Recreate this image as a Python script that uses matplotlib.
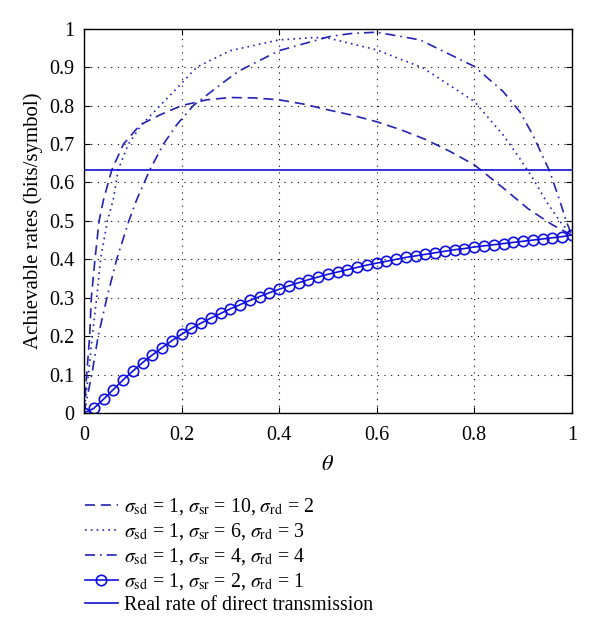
import numpy as np
import matplotlib.pyplot as plt

plt.rcParams['font.family'] = ['Liberation Serif', 'DejaVu Serif']
plt.rcParams['mathtext.fontset'] = 'stix'

# sigma_sd=1, sigma_sr=10, sigma_rd=2 (dashed)
theta_a = [0, 0.0055, 0.0116, 0.015, 0.0225, 0.031, 0.040, 0.057, 0.081, 0.115,
           0.156, 0.2, 0.251, 0.3, 0.35, 0.4, 0.45, 0.5, 0.55, 0.6, 0.65, 0.7,
           0.75, 0.8, 0.86, 0.91, 0.96, 1.0]
rate_a = [0, 0.1, 0.2, 0.3, 0.4, 0.5, 0.555, 0.633, 0.7, 0.75,
          0.776, 0.8, 0.815, 0.821, 0.82, 0.815, 0.804, 0.789, 0.775, 0.758, 0.737, 0.712,
          0.681, 0.646, 0.585, 0.532, 0.49, 0.463]

# sigma_sd=1, sigma_sr=6, sigma_rd=3 (dotted)
theta_b = [0, 0.009, 0.017, 0.026, 0.034, 0.048, 0.060, 0.070, 0.091, 0.118,
           0.156, 0.197, 0.231, 0.3, 0.4, 0.47, 0.5, 0.6, 0.695, 0.8, 0.859,
           0.893, 0.92, 0.948, 0.976, 1.0]
rate_b = [0, 0.1, 0.2, 0.3, 0.4, 0.5, 0.555, 0.633, 0.7, 0.75,
          0.8, 0.854, 0.9, 0.943, 0.971, 0.977, 0.976, 0.945, 0.898, 0.811, 0.724,
          0.663, 0.611, 0.55, 0.498, 0.463]

# sigma_sd=1, sigma_sr=4, sigma_rd=4 (dash-dot)
theta_c = [0, 0.016, 0.029, 0.047, 0.067, 0.092, 0.108, 0.135, 0.163, 0.19,
           0.224, 0.279, 0.316, 0.4, 0.504, 0.55, 0.6, 0.689, 0.8, 0.859, 0.893,
           0.92, 0.955, 0.976, 0.989, 1.0]
rate_c = [0, 0.1, 0.2, 0.3, 0.4, 0.5, 0.555, 0.633, 0.7, 0.75,
          0.8, 0.854, 0.889, 0.943, 0.98, 0.988, 0.991, 0.971, 0.902, 0.837, 0.785,
          0.724, 0.628, 0.55, 0.498, 0.463]

# sigma_sd=1, sigma_sr=2, sigma_rd=1 (circles), theta = 0, 0.02, ..., 1
theta_d = np.linspace(0, 1, 51)
rate_d = [0, 0.012, 0.036, 0.061, 0.086, 0.109, 0.131, 0.151, 0.170, 0.188,
          0.205, 0.220, 0.234, 0.247, 0.259, 0.271, 0.282, 0.293, 0.303, 0.313,
          0.322, 0.331, 0.339, 0.347, 0.354, 0.361, 0.367, 0.373, 0.379, 0.385,
          0.390, 0.395, 0.400, 0.405, 0.409, 0.413, 0.417, 0.421, 0.425, 0.428,
          0.432, 0.435, 0.438, 0.441, 0.444, 0.447, 0.450, 0.453, 0.456, 0.459,
          0.463]

direct_rate = 0.632

labels = [r'$\sigma_{\rm sd}$ = 1, $\sigma_{\rm sr}$ = 10, $\sigma_{\rm rd}$ = 2',
          r'$\sigma_{\rm sd}$ = 1, $\sigma_{\rm sr}$ = 6, $\sigma_{\rm rd}$ = 3',
          r'$\sigma_{\rm sd}$ = 1, $\sigma_{\rm sr}$ = 4, $\sigma_{\rm rd}$ = 4',
          r'$\sigma_{\rm sd}$ = 1, $\sigma_{\rm sr}$ = 2, $\sigma_{\rm rd}$ = 1',
          'Real rate of direct transmission']

col = '#2323b4'
fig = plt.figure(figsize=(6, 6.32), dpi=100)
ax = fig.add_axes([0.14, 0.3465, 0.813, 0.608])

ax.plot(theta_a, rate_a, color=col, linestyle=(0, (6, 3.5)), linewidth=1.2, label=labels[0])
ax.plot(theta_b, rate_b, color=col, linestyle=(0, (1, 2.5)), linewidth=1.2, label=labels[1])
ax.plot(theta_c, rate_c, color=col, linestyle=(0, (6, 3, 1, 3)), linewidth=1.2, label=labels[2])
ax.plot(theta_d, rate_d, color='#1010e0', linestyle='-', linewidth=1.2, marker='o',
        markersize=7.5, markerfacecolor='none', markeredgewidth=1.2, label=labels[3])
ax.axhline(direct_rate, color='#1010d0', linewidth=1.2, label=labels[4])

ax.set_xlim(0, 1)
ax.set_ylim(0, 1)
ax.set_xticks(np.arange(0, 1.01, 0.2))
ax.set_xticklabels(['0', '0.2', '0.4', '0.6', '0.8', '1'])
ax.set_yticks(np.arange(0, 1.01, 0.1))
ax.set_yticklabels(['0', '0.1', '0.2', '0.3', '0.4', '0.5', '0.6', '0.7', '0.8', '0.9', '1'])
ax.tick_params(direction='in', top=True, right=True, labelsize=14.5, length=4)
ax.tick_params(axis='x', pad=9)
ax.tick_params(axis='y', pad=7)
ax.grid(True, color='black', linestyle=(0, (1, 5)), linewidth=0.8)
for s in ax.spines.values():
    s.set_linewidth(1.0)

ax.set_xlabel(r'$\theta$', fontsize=16, labelpad=8)
ax.set_ylabel('Achievable rates (bits/symbol)', fontsize=15, labelpad=4)

fig.legend(loc='upper left', bbox_to_anchor=(0.128, 0.227), frameon=False,
           fontsize=14.3, handlelength=1.65, handletextpad=0.35, labelspacing=0.2,
           borderaxespad=0)

fig.savefig('out.png', dpi=100)
